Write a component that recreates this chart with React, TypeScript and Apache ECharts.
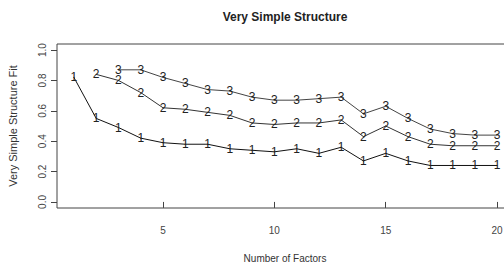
import React, { useEffect, useRef } from "react";
import * as echarts from "echarts";

const factors = [1, 2, 3, 4, 5, 6, 7, 8, 9, 10, 11, 12, 13, 14, 15, 16, 17, 18, 19, 20];
// complexity 1 (starts at 1 factor)
const complexity1 = [0.82, 0.55, 0.49, 0.42, 0.39, 0.38, 0.38, 0.35, 0.34, 0.33, 0.35, 0.32, 0.36, 0.27, 0.32, 0.27, 0.24, 0.24, 0.24, 0.24];
// complexity 2 (starts at 2 factors)
const complexity2 = [0.84, 0.8, 0.72, 0.62, 0.61, 0.59, 0.57, 0.52, 0.51, 0.52, 0.52, 0.54, 0.43, 0.5, 0.43, 0.38, 0.37, 0.37, 0.37];
// complexity 3 (starts at 3 factors)
const complexity3 = [0.87, 0.87, 0.82, 0.78, 0.74, 0.73, 0.69, 0.67, 0.67, 0.68, 0.69, 0.58, 0.63, 0.55, 0.48, 0.45, 0.44, 0.44];

const xTicks = [5, 10, 15, 20];
const yTicks = [0, 0.2, 0.4, 0.6, 0.8, 1.0];

const titleText = "Very Simple Structure";
const xTitle = "Number of Factors";
const yTitle = "Very Simple Structure Fit";

const FONT = "'Liberation Sans', Arial, sans-serif";

function toPairs(values: number[], start: number) {
  return values.map((v, i) => [factors[start - 1 + i], v]);
}

export default function App() {
  const ref = useRef<HTMLDivElement>(null);
  useEffect(() => {
    if (!ref.current) return;
    const chart = echarts.init(ref.current, undefined, { renderer: "svg" });
    const mk = (name: string, values: number[], start: number, color: string) => ({
      type: "line",
      name,
      data: toPairs(values, start),
      symbol: "circle",
      symbolSize: 1,
      itemStyle: { color },
      lineStyle: { color, width: 1 },
      label: {
        show: true,
        position: "inside",
        formatter: name,
        fontFamily: FONT,
        fontSize: 12,
        color: "#222",
      },
      clip: false,
    });
    chart.setOption({
      animation: false,
      backgroundColor: "#ffffff",
      grid: {
        left: 57,
        top: 44,
        width: 457,
        height: 164,
        show: true,
        borderColor: "#444",
        borderWidth: 1,
        backgroundColor: "transparent",
      },
      xAxis: {
        type: "value",
        min: 0.24,
        max: 20.76,
        axisLine: { show: false },
        splitLine: { show: false },
        axisTick: {
          show: true,
          customValues: xTicks,
          length: 6,
          inside: false,
          lineStyle: { color: "#444" },
        },
        axisLabel: {
          show: true,
          customValues: xTicks,
          margin: 17,
          fontFamily: FONT,
          fontSize: 10,
          color: "#444",
        },
      },
      yAxis: {
        type: "value",
        min: -0.04,
        max: 1.04,
        axisLine: { show: false },
        splitLine: { show: false },
        axisTick: {
          show: true,
          customValues: yTicks,
          length: 6,
          inside: false,
          lineStyle: { color: "#444" },
        },
        axisLabel: {
          show: true,
          customValues: yTicks,
          rotate: 90,
          margin: 10,
          fontFamily: FONT,
          fontSize: 10,
          color: "#444",
          formatter: (v: number) => v.toFixed(1),
        },
      },
      graphic: [
        {
          type: "text",
          x: 285,
          y: 17,
          style: {
            text: titleText,
            textAlign: "center",
            textVerticalAlign: "middle",
            font: `bold 12px ${FONT}`,
            fill: "#222",
          },
        },
        {
          type: "text",
          x: 285,
          y: 258,
          style: {
            text: xTitle,
            textAlign: "center",
            textVerticalAlign: "middle",
            font: `10px ${FONT}`,
            fill: "#333",
          },
        },
        {
          type: "text",
          x: 13,
          y: 126,
          rotation: Math.PI / 2,
          style: {
            text: yTitle,
            textAlign: "center",
            textVerticalAlign: "middle",
            font: `11px ${FONT}`,
            fill: "#333",
          },
        },
      ],
      series: [
        mk("1", complexity1, 1, "#111"),
        mk("2", complexity2, 2, "#333"),
        mk("3", complexity3, 3, "#444"),
      ],
    });
    return () => chart.dispose();
  }, []);
  return (
    <div style={{ position: "fixed", left: 0, top: 0, width: 504, height: 265, overflow: "hidden", background: "#fff" }}>
      <div ref={ref} style={{ width: 520, height: 265 }} />
    </div>
  );
}
